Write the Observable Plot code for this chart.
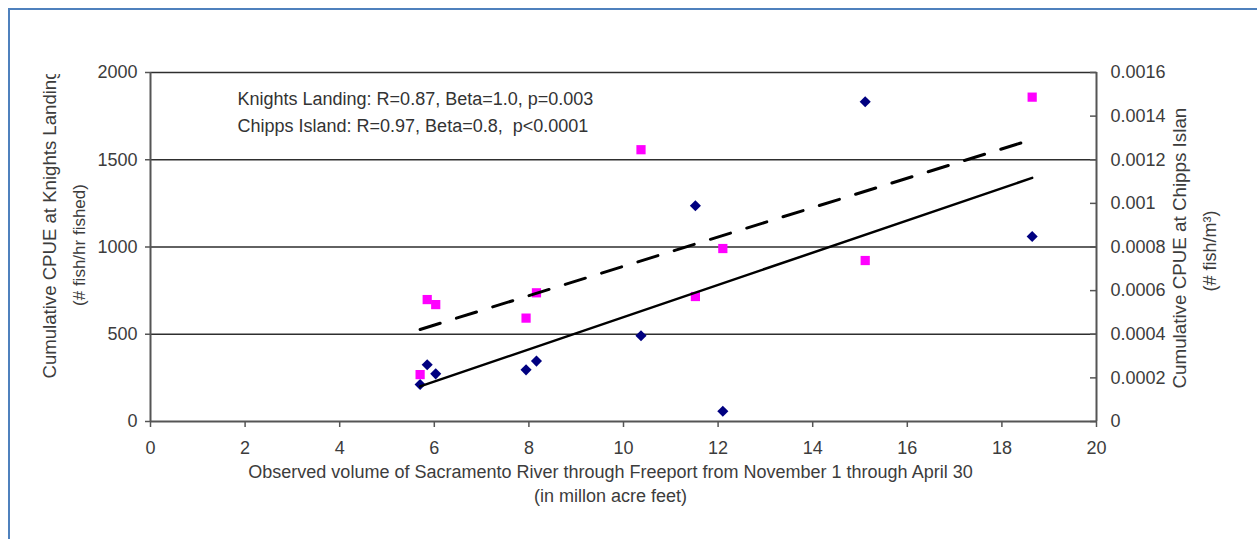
<!DOCTYPE html>
<html>
<head>
<meta charset="utf-8">
<script src="https://cdn.jsdelivr.net/npm/d3@7"></script>
<script src="https://cdn.jsdelivr.net/npm/@observablehq/plot@0.6"></script>
<style>
  html, body { margin: 0; padding: 0; background: #fff; overflow: hidden; }
  #wrap { position: relative; width: 1257px; height: 539px; }
  #border { position: absolute; left: 8px; top: 8px; width: 1400px; height: 700px;
            border-left: 2px solid #4f81bd; border-top: 2px solid #4f81bd; pointer-events: none; }
  svg text { white-space: pre; }
</style>
</head>
<body>
<div id="wrap"><div id="border"></div></div>
<script>
// ---- data ----
const flow = [5.70, 5.85, 6.03, 7.94, 8.16, 10.37, 11.52, 12.10, 15.11, 18.64];
const cpueKnights = [212, 325, 273, 296, 346, 491, 1236, 59, 1832, 1060];
const cpueChipps = [0.000215, 0.000559, 0.000536, 0.000474, 0.000590, 0.001246, 0.000573, 0.000793, 0.000738, 0.001487];
const fitFlow = [5.70, 18.64];
const fitKnights = [201, 1396];
const fitChipps = [0.000422, 0.001293];

const xTicks = [0, 2, 4, 6, 8, 10, 12, 14, 16, 18, 20];
const xTickLabels = ["0", "2", "4", "6", "8", "10", "12", "14", "16", "18", "20"];
const leftTicks = [0, 500, 1000, 1500, 2000];
const leftTickLabels = ["0", "500", "1000", "1500", "2000"];
const gridLevels = [500, 1000, 1500, 2000];
const rightTicks = [0, 0.0002, 0.0004, 0.0006, 0.0008, 0.001, 0.0012, 0.0014, 0.0016];
const rightTickLabels = ["0", "0.0002", "0.0004", "0.0006", "0.0008", "0.001", "0.0012", "0.0014", "0.0016"];

const annotation = ["Knights Landing: R=0.87, Beta=1.0, p=0.003", "Chipps Island: R=0.97, Beta=0.8,  p<0.0001"];
const leftTitle = ["Cumulative CPUE at Knights Landing", "(# fish/hr fished)"];
const rightTitle = ["Cumulative CPUE at Chipps Island", "(# fish/m\u00b3)"];
const xTitle = ["Observed volume of Sacramento River through Freeport from November 1 through April 30", "(in millon acre feet)"];

const leftMax = 2000, rightMax = 0.0016;
const k = leftMax / rightMax;

const knights = flow.map((f, i) => ({flow: f, v: cpueKnights[i]}));
const chipps = flow.map((f, i) => ({flow: f, v: cpueChipps[i] * k}));
const fitK = fitFlow.map((f, i) => ({flow: f, v: fitKnights[i]}));
const fitC = fitFlow.map((f, i) => ({flow: f, v: fitChipps[i] * k}));

const txt = "#3c3c3c";
const font = "'Liberation Sans', Arial, sans-serif";

const chart = Plot.plot({
  width: 1257, height: 539,
  marginLeft: 150, marginRight: 161, marginTop: 72, marginBottom: 118,
  style: {fontFamily: font, fontSize: "18px", background: "transparent"},
  x: {domain: [0, 20]},
  y: {domain: [0, leftMax]},
  marks: [
    Plot.ruleY(gridLevels, {stroke: "#2e2e2e", strokeWidth: 1.6}),
    Plot.ruleX([0, 20], {stroke: "#555", strokeWidth: 2}),
    Plot.ruleY([0], {stroke: "#555", strokeWidth: 2}),
    Plot.axisX(xTicks, {anchor: "bottom", tickSize: 6, tickPadding: 14, strokeWidth: 1.5, stroke: "#555", fill: txt,
      fontSize: 18, label: null, tickFormat: d => xTickLabels[xTicks.indexOf(d)]}),
    Plot.axisY(leftTicks, {anchor: "left", tickSize: 5, tickPadding: 8, strokeWidth: 1.5, stroke: "#555", fill: txt,
      fontSize: 18, label: null, tickFormat: d => leftTickLabels[leftTicks.indexOf(d)]}),
    Plot.axisY(rightTicks.map(d => d * k), {anchor: "right", tickSize: -7, tickPadding: 21, strokeWidth: 1.5, stroke: "#555", fill: txt,
      fontSize: 18, label: null, tickFormat: d => rightTickLabels[rightTicks.findIndex(t => Math.abs(t * k - d) < 1e-6)]}),
    Plot.dot(knights, {x: "flow", y: "v", symbol: "diamond2", r: 5, fill: "#000080"}),
    Plot.dot(chipps, {x: "flow", y: "v", symbol: "square", r: 5.2, fill: "#ff00ff"}),
    Plot.line(fitK, {x: "flow", y: "v", stroke: "#000", strokeWidth: 2.5}),
    Plot.line(fitC, {x: "flow", y: "v", stroke: "#000", strokeWidth: 3, strokeDasharray: "21,17"}),
    Plot.text([annotation.join("\n")], {text: d => d, frameAnchor: "top-left", dx: 87, dy: 13,
      textAnchor: "start", lineAnchor: "top", lineHeight: 1.5, fill: "#333", fontSize: 18}),
    Plot.text([leftTitle[0]], {text: d => d, frameAnchor: "bottom-left", dx: -95, dy: -43, rotate: -90,
      textAnchor: "start", fill: txt, fontSize: 18.6}),
    Plot.text([leftTitle[1]], {text: d => d, frameAnchor: "left", dx: -71, dy: -2, rotate: -90,
      textAnchor: "middle", fill: txt, fontSize: 17}),
    Plot.text([rightTitle[0]], {text: d => d, frameAnchor: "bottom-right", dx: 89, dy: -33, rotate: -90,
      textAnchor: "start", fill: txt, fontSize: 18.8}),
    Plot.text([rightTitle[1]], {text: d => d, frameAnchor: "right", dx: 114, dy: 4, rotate: -90,
      textAnchor: "middle", fill: txt, fontSize: 18}),
    Plot.text([xTitle.join("\n")], {text: d => d, frameAnchor: "bottom", dx: -13, dy: 40,
      textAnchor: "middle", lineAnchor: "top", lineHeight: 1.3, fill: txt, fontSize: 18})
  ]
});

// clip the axis titles the way the original chart does
const ns = "http://www.w3.org/2000/svg";
const defs = document.createElementNS(ns, "defs");
chart.insertBefore(defs, chart.firstChild);
function clipTitle(prefix, top, id) {
  const t = [...chart.querySelectorAll("text")].find(e => e.textContent.startsWith(prefix));
  if (!t) return;
  let g = t;
  while (g.parentNode && g.parentNode !== chart) g = g.parentNode;
  const cp = document.createElementNS(ns, "clipPath");
  cp.setAttribute("id", id);
  cp.setAttribute("clipPathUnits", "userSpaceOnUse");
  const r = document.createElementNS(ns, "rect");
  r.setAttribute("x", 0); r.setAttribute("y", top);
  r.setAttribute("width", 1257); r.setAttribute("height", 539 - top);
  cp.appendChild(r); defs.appendChild(cp);
  const w = document.createElementNS(ns, "g");
  w.setAttribute("clip-path", `url(#${id})`);
  chart.insertBefore(w, g); w.appendChild(g);
}
clipTitle("Cumulative CPUE at Knights", 74, "clipLeftTitle");
clipTitle("Cumulative CPUE at Chipps", 107, "clipRightTitle");

document.getElementById("wrap").insertBefore(chart, document.getElementById("border"));
chart.style.position = "absolute"; chart.style.left = "0px"; chart.style.top = "0px";
</script>
</body>
</html>
